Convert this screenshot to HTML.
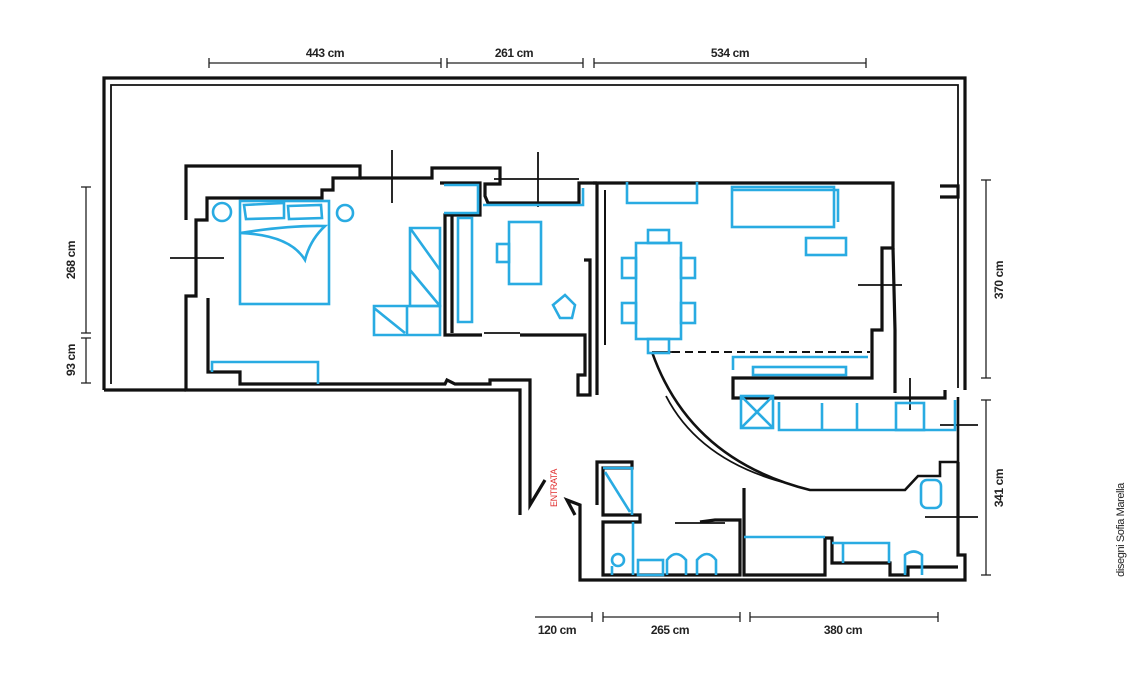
<!DOCTYPE html>
<html><head><meta charset="utf-8"><style>
html,body{margin:0;padding:0;background:#fff;width:1140px;height:680px;overflow:hidden}
svg{display:block}
.w{fill:none;stroke:#111;stroke-width:3.2;stroke-linejoin:miter}
.t{fill:none;stroke:#111;stroke-width:1.8}
.b{fill:none;stroke:#29abe2;stroke-width:2.6}
.d{fill:none;stroke:#222;stroke-width:1.3}
text{font-family:"Liberation Sans",sans-serif;font-weight:bold;font-size:12px;fill:#222;letter-spacing:-0.4px}
</style></head><body>
<svg width="1140" height="680" viewBox="0 0 1140 680">
<g class="d">
<line x1="209" y1="63" x2="441" y2="63"/><line x1="209" y1="58" x2="209" y2="68"/><line x1="441" y1="58" x2="441" y2="68"/>
<line x1="447" y1="63" x2="583" y2="63"/><line x1="447" y1="58" x2="447" y2="68"/><line x1="583" y1="58" x2="583" y2="68"/>
<line x1="594" y1="63" x2="866" y2="63"/><line x1="594" y1="58" x2="594" y2="68"/><line x1="866" y1="58" x2="866" y2="68"/>
<line x1="86" y1="187" x2="86" y2="333"/><line x1="81" y1="187" x2="91" y2="187"/><line x1="81" y1="333" x2="91" y2="333"/>
<line x1="86" y1="338" x2="86" y2="383"/><line x1="81" y1="338" x2="91" y2="338"/><line x1="81" y1="383" x2="91" y2="383"/>
<line x1="986" y1="180" x2="986" y2="378"/><line x1="981" y1="180" x2="991" y2="180"/><line x1="981" y1="378" x2="991" y2="378"/>
<line x1="986" y1="400" x2="986" y2="575"/><line x1="981" y1="400" x2="991" y2="400"/><line x1="981" y1="575" x2="991" y2="575"/>
<line x1="535" y1="617" x2="592" y2="617"/><line x1="592" y1="612" x2="592" y2="622"/>
<line x1="603" y1="617" x2="740" y2="617"/><line x1="603" y1="612" x2="603" y2="622"/><line x1="740" y1="612" x2="740" y2="622"/>
<line x1="750" y1="617" x2="938" y2="617"/><line x1="750" y1="612" x2="750" y2="622"/><line x1="938" y1="612" x2="938" y2="622"/>
</g>
<g text-anchor="middle">
<text x="325" y="57">443 cm</text><text x="514" y="57">261 cm</text><text x="730" y="57">534 cm</text>
<text x="557" y="634">120 cm</text><text x="670" y="634">265 cm</text><text x="843" y="634">380 cm</text>
<text transform="translate(75,260) rotate(-90)">268 cm</text>
<text transform="translate(75,360) rotate(-90)">93 cm</text>
<text transform="translate(1003,280) rotate(-90)">370 cm</text>
<text transform="translate(1003,488) rotate(-90)">341 cm</text>
<text transform="translate(1124,530) rotate(-90)" style="font-weight:normal;font-size:11px">disegni Sofia Marella</text>
<text transform="translate(557,488) rotate(-90)" style="fill:#e03030;font-size:9px;font-weight:normal">ENTRATA</text>
</g>
<path class="w" d="M104,390 L104,78 L965,78 L965,390"/>
<path class="t" d="M111,384 L111,85 L958,85 L958,388"/>
<path class="w" d="M104,390 L186,390"/>
<path class="w" d="M940,186 L958,186 L958,197 L940,197"/>
<path class="w" d="M186,220 L186,166 L360,166 L360,178 L333,178 L333,190 L322,190 L322,198 L207,198 L207,220 L196,220 L196,296 L186,296 L186,390 L520,390 L520,515"/>
<path class="w" d="M208,298 L208,372 L240,372 L240,384 L445,384 L447,380 L455,384 L490,384 L490,380 L530,380 L530,505 L545,480"/>
<path class="w" d="M360,178 L432,178 L432,168 L500,168 L500,184 L485,184 L485,196 L488,203 L579,203 L579,183 L597,183"/>
<path class="t" d="M494,179 L579,179"/>
<path class="w" d="M440,183 L480,183 L480,215 L445,215 L445,335 L482,335"/>
<path class="w" d="M452,215 L452,333"/>
<path class="w" d="M520,335 L585,335 L585,375 L578,375 L578,395 L590,395 L590,260 L584,260"/>
<path class="w" d="M597,183 L597,260 L597,395"/>
<path class="w" d="M605,190 L605,345" style="stroke-width:2"/>
<path class="w" d="M593,183 L893,183 L893,248 L882,248 L882,330 L872,330 L872,378 L733,378 L733,398 L945,398 L945,390"/>
<path class="w" d="M893,248 L895,330 L895,393"/>
<path class="w" d="M652,352 Q690,460 810,490 L905,490 L918,476 L940,476 L940,462 L958,462 L958,397" style="stroke-width:2.6"/>
<path class="t" d="M666,396 Q700,462 790,484"/>
<path class="w" d="M958,462 L958,555 L965,555 L965,580 L580,580 L580,505 L567,500 L575,515"/>
<path class="w" d="M597,505 L597,462 L632,462 L632,468 L603,468 L603,515 L640,515 L640,522 L603,522 L603,575 L740,575 L740,520 L715,520 L700,522"/>
<path class="w" d="M744,488 L744,575 L825,575 L825,538 L832,538 L832,563 L890,563 L890,575 L908,575 L908,567 L958,567"/>
<path class="t" d="M652,352 L672,352"/>
<path class="w" d="M672,352 L870,352" style="stroke-dasharray:8,5;stroke-width:2"/>
<g class="t">
<line x1="392" y1="150" x2="392" y2="203"/><line x1="538" y1="152" x2="538" y2="207"/>
<line x1="170" y1="258" x2="224" y2="258"/><line x1="858" y1="285" x2="902" y2="285"/>
<line x1="910" y1="378" x2="910" y2="410"/><line x1="940" y1="425" x2="978" y2="425"/>
<line x1="925" y1="517" x2="978" y2="517"/><line x1="725" y1="523" x2="675" y2="523"/>
<line x1="484" y1="333" x2="520" y2="333"/>
</g>
<g class="b">
<circle cx="222" cy="212" r="9"/><circle cx="345" cy="213" r="8"/>
<rect x="240" y="201" width="89" height="103"/><path d="M244,205 L284,203 L284,218 L246,219Z M288,206 L321,205 L322,218 L289,219Z"/>
<path d="M240,233 Q290,225 325,226 Q310,240 305,260 Q290,235 240,233"/>
<path d="M410,228 L440,228 L440,306 L410,306Z M410,228 L440,270 M410,270 L440,306"/>
<path d="M374,306 L440,306 L440,335 L374,335Z M407,306 L407,335 M374,308 L405,333"/>
<path d="M458,218 L472,218 L472,322 L458,322Z"/>
<path d="M444,185 L478,185 L478,213 L444,213"/>
<rect x="509" y="222" width="32" height="62"/><rect x="497" y="244" width="12" height="18"/>
<path d="M553,305 L565,295 L575,305 L572,318 L560,318Z"/>
<path d="M483,205 L583,205 L583,188"/>
<path d="M627,182 L627,203 L697,203 L697,182"/>
<rect x="732" y="187" width="102" height="40"/><path d="M732,190 L838,190 L838,222"/>
<rect x="806" y="238" width="40" height="17"/>
<rect x="636" y="243" width="45" height="96"/>
<rect x="648" y="230" width="21" height="13"/><rect x="648" y="339" width="21" height="14"/>
<rect x="622" y="258" width="14" height="20"/><rect x="622" y="303" width="14" height="20"/>
<rect x="681" y="258" width="14" height="20"/><rect x="681" y="303" width="14" height="20"/>
<path d="M733,370 L733,357 L868,357"/><rect x="753" y="367" width="93" height="8"/>
<rect x="741" y="396" width="32" height="32"/><path d="M741,396 L773,428 M773,396 L741,428"/>
<path d="M779,402 L779,430 L955,430 L955,400"/><line x1="822" y1="403" x2="822" y2="430"/><line x1="857" y1="403" x2="857" y2="430"/>
<rect x="896" y="403" width="28" height="27"/>
<rect x="921" y="480" width="20" height="28" rx="6"/>
<path d="M212,372 L212,362 L318,362 L318,384"/>
<path d="M603,468 L632,468 L632,515 M605,472 L630,512"/><line x1="633" y1="522" x2="633" y2="575"/>
<circle cx="618" cy="560" r="6"/><path d="M612,575 L612,566"/>
<rect x="638" y="560" width="25" height="15"/><path d="M667,575 L667,560 Q676,548 686,560 L686,575"/><path d="M697,575 L697,560 Q707,548 716,560 L716,575"/>
<path d="M744,537 L825,537"/><path d="M832,543 L889,543 L889,563"/><line x1="843" y1="543" x2="843" y2="563"/>
<path d="M905,575 L905,555 Q914,548 922,555 L922,575"/>
</g>
</svg>
</body></html>
